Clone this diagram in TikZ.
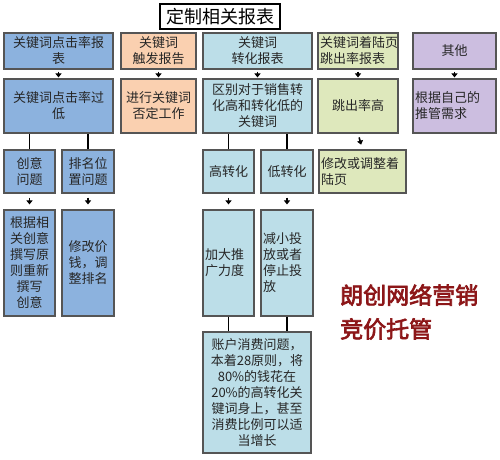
\documentclass[tikz,border=0pt]{standalone}
\usepackage{fontspec}
\usepackage{xcolor}
\usepackage{tikz}
\usetikzlibrary{arrows.meta,calc}
\setmainfont{Noto Sans CJK SC}
\newfontfamily\brandfont[FakeBold=3]{Noto Sans CJK SC}
\definecolor{clickblue}{RGB}{140,178,222}
\definecolor{triggerpeach}{RGB}{250,208,176}
\definecolor{convblue}{RGB}{188,222,232}
\definecolor{landgreen}{RGB}{222,232,188}
\definecolor{otherlilac}{RGB}{204,190,224}
\definecolor{brandred}{RGB}{140,22,24}
\definecolor{edgegray}{RGB}{85,85,85}
\tikzset{
  cell/.style={draw=edgegray, line width=1.1pt, inner sep=2pt, text=black!85,
    font=\fontsize{13}{16}\selectfont},
  click/.style={cell, fill=clickblue},      % click-rate column
  trigger/.style={cell, fill=triggerpeach}, % trigger report column
  conv/.style={cell, fill=convblue},        % conversion column
  landing/.style={cell, fill=landgreen},    % landing page column
  other/.style={cell, fill=otherlilac},     % other column
  titlebox/.style={draw=black, line width=1.4pt, fill=white, inner sep=0pt,
    font=\fontsize{18}{20}\selectfont},
  brand/.style={text=brandred, inner sep=0pt, anchor=west,
    font=\brandfont\fontsize{23}{26}\selectfont},
  flowArrow/.style={-{Triangle[width=6pt,length=4pt]}, line width=1.6pt},
  stem/.style={line width=1.6pt}
}
\newcommand{\StepArrow}[3][2pt]{% #1=start gap, #2=from, #3=to
  \draw[flowArrow, shorten <=#1, shorten >=1pt] (#2.south) -- (#3.north);%
}
\newcommand{\GapArrow}[2]{% arrow floating in a wide gap
  \draw[flowArrow, shorten <=4pt, shorten >=5pt] (#1.south) -- (#2.north);%
}

\begin{document}
\begin{tikzpicture}[x=1pt,y=-1pt]
  \useasboundingbox (0,0) rectangle (500,459);
  \node[titlebox, minimum width=120pt, minimum height=25pt] (title) at (220,16.5) {定制相关报表};
  % top row of reports
  \node[click, minimum width=109pt, minimum height=36pt, align=center] (clickRep) at (58.5,51) {关键词点击率报\\表};
  \node[trigger, minimum width=75pt, minimum height=36pt, align=center] (trigRep) at (158.5,51) {关键词\\触发报告};
  \node[conv, minimum width=109pt, minimum height=36pt, align=center] (convRep) at (257.5,51) {关键词\\转化报表};
  \node[landing, text width=76pt, minimum height=36pt, align=left] (landRep) at (358,51) {关键词着陆页\\跳出率报表};
  \node[other, minimum width=83pt, minimum height=36pt, align=center] (otherRep) at (454.5,51) {其他};
  % second row
  \node[click, minimum width=109pt, minimum height=54pt, align=center] (clickLow) at (58.5,106) {关键词点击率过\\低};
  \node[trigger, minimum width=75pt, minimum height=54pt, align=center] (trigNeg) at (158.5,106) {进行关键词\\否定工作};
  \node[conv, minimum width=109pt, minimum height=54pt, align=center] (convSplit) at (257.5,106) {区别对于销售转\\化高和转化低的\\关键词};
  \node[landing, minimum width=80pt, minimum height=54pt, align=center] (landHigh) at (358,106) {跳出率高};
  \node[other, text width=79pt, minimum height=54pt, align=left] (otherNeed) at (454.5,106) {根据自己的\\推管需求};
  \foreach \a/\b in {clickRep/clickLow, trigRep/trigNeg, convRep/convSplit, landRep/landHigh, otherRep/otherNeed}
    \StepArrow{\a}{\b};
  % third row
  \node[click, minimum width=51pt, minimum height=43pt, align=center] (idea) at (29.5,171.5) {创意\\问题};
  \node[click, minimum width=52pt, minimum height=43pt, align=center] (rank) at (88,171.5) {排名位\\置问题};
  \node[conv, minimum width=51pt, minimum height=43pt, align=center] (highConv) at (228.5,171.5) {高转化};
  \node[conv, minimum width=52pt, minimum height=43pt, align=center] (lowConv) at (287,171.5) {低转化};
  \node[landing, text width=83pt, minimum height=43pt, align=left] (landFix) at (362.5,171.5) {修改或调整着\\陆页};
  \foreach \n/\p in {idea/clickLow, rank/clickLow, highConv/convSplit, lowConv/convSplit}
    \draw[stem] (\n.north) -- (\n.north |- \p.south);
  \GapArrow{landHigh}{landFix}
  % fourth row
  \node[click, minimum width=51pt, minimum height=106pt, align=center] (rewrite) at (29.5,263) {根据相\\关创意\\撰写原\\则重新\\撰写\\创意};
  \node[click, minimum width=52pt, minimum height=106pt, align=center] (reprice) at (88,263) {修改价\\钱，调\\整排名};
  \node[conv, text width=47pt, minimum height=106pt, align=left] (boost) at (228.5,263) {加大推\\广力度};
  \node[conv, text width=48pt, minimum height=106pt, align=left] (cut) at (287,263) {减小投\\放或者\\停止投\\放};
  \foreach \a/\b in {idea/rewrite, rank/reprice, highConv/boost, lowConv/cut}
    \GapArrow{\a}{\b};
  % spending box under both conversion branches
  \node[conv, minimum width=108pt, minimum height=121pt, align=center] (spend) at (257,392.5) {账户消费问题，\\本着28原则，将\\80\%的钱花在\\20\%的高转化关\\键词身上，甚至\\消费比例可以适\\当增长};
  \foreach \n in {boost, cut}
    \draw[stem] (\n.south) -- (\n.south |- spend.north);
  % red brand text
  \node[brand] (brandTop) at (340,295) {朗创网络营销};
  \node[brand] (brandBot) at (340,329) {竞价托管};
\end{tikzpicture}
\end{document}
